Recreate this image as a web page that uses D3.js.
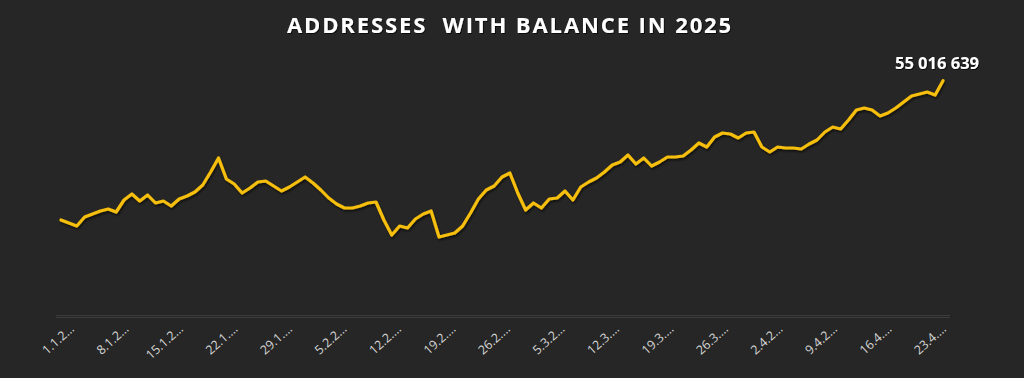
<!DOCTYPE html>
<html>
<head>
<meta charset="utf-8">
<script src="https://cdn.jsdelivr.net/npm/d3@7"></script>
<style>
  html, body { margin: 0; padding: 0; background: #262626; }
  svg { display: block; }
</style>
</head>
<body>
<svg id="chart" width="1024" height="378"></svg>
<script>
// ---- data ----
const chartTitle = "ADDRESSES  WITH BALANCE IN 2025";
const startDate = "2025-01-01";
const addressCounts = [
  54320000, 54305000, 54290000, 54335000, 54350000, 54365000, 54375000, 54360000,
  54420000, 54450000, 54415000, 54445000, 54405000, 54415000, 54390000, 54425000,
  54440000, 54460000, 54495000, 54560000, 54630000, 54525000, 54500000, 54455000,
  54480000, 54510000, 54515000, 54490000, 54465000, 54485000, 54510000, 54535000,
  54505000, 54470000, 54430000, 54400000, 54380000, 54380000, 54390000, 54405000,
  54410000, 54320000, 54245000, 54290000, 54280000, 54325000, 54350000, 54365000,
  54235000, 54245000, 54255000, 54290000, 54355000, 54425000, 54470000, 54490000,
  54535000, 54555000, 54455000, 54370000, 54405000, 54380000, 54425000, 54430000,
  54465000, 54420000, 54485000, 54510000, 54530000, 54560000, 54595000, 54610000,
  54645000, 54600000, 54630000, 54590000, 54610000, 54635000, 54635000, 54640000,
  54670000, 54705000, 54685000, 54735000, 54755000, 54750000, 54730000, 54755000,
  54760000, 54685000, 54660000, 54685000, 54680000, 54680000, 54675000, 54700000,
  54720000, 54760000, 54785000, 54775000, 54820000, 54870000, 54880000, 54870000,
  54840000, 54855000, 54880000, 54910000, 54940000, 54950000, 54960000, 54945000,
  55016639
];
const tickLabels = ["1.1.2…","8.1.2…","15.1.2…","22.1.…","29.1.…","5.2.2…","12.2.…","19.2.…",
  "26.2.…","5.3.2…","12.3.…","19.3.…","26.3.…","2.4.2…","9.4.2…","16.4.…","23.4.…"];
const yDomain = [53840000, 55240000];

// ---- build ----
const parse = d3.utcParse("%Y-%m-%d");
const t0 = parse(startDate);
const data = addressCounts.map((v, i) => ({ date: d3.utcDay.offset(t0, i), value: v }));

const svg = d3.select("#chart");
const defs = svg.append("defs");
const f = defs.append("filter").attr("id", "shadow").attr("x", "-5%").attr("y", "-20%").attr("width", "110%").attr("height", "140%");
f.append("feDropShadow").attr("dx", 1).attr("dy", 2).attr("stdDeviation", 1.2)
  .attr("flood-color", "#000").attr("flood-opacity", 0.55);
const tf = defs.append("filter").attr("id", "tshadow");
tf.append("feDropShadow").attr("dx", 1).attr("dy", 1).attr("stdDeviation", 0.6)
  .attr("flood-color", "#000").attr("flood-opacity", 0.7);

const x = d3.scaleUtc().domain(d3.extent(data, d => d.date)).range([61, 943]);
const y = d3.scaleLinear().domain(yDomain).range([316, 36]);

// title
svg.append("text")
  .attr("x", 510).attr("y", 33)
  .attr("text-anchor", "middle")
  .attr("fill", "#ffffff")
  .attr("font-family", "'Open Sans', 'Segoe UI', sans-serif")
  .attr("font-weight", 700)
  .attr("font-size", 22)
  .attr("letter-spacing", 1.9)
  .style("white-space", "pre")
  .attr("filter", "url(#tshadow)")
  .text(chartTitle);

// axis baseline (double thin line)
const axisG = svg.append("g");
[315.5, 317.5].forEach(yy => {
  axisG.append("line")
    .attr("x1", 56).attr("x2", 950)
    .attr("y1", yy).attr("y2", yy)
    .attr("stroke", "#3c3c3c").attr("stroke-width", 1);
});

// x labels
const xl = d3.scalePoint().domain(tickLabels).range([75, 947]);
svg.append("g").selectAll("text")
  .data(tickLabels)
  .join("text")
  .attr("transform", d => `translate(${xl(d)},330) rotate(-42)`)
  .attr("text-anchor", "end")
  .attr("fill", "#d6d6d6")
  .attr("font-family", "'Open Sans', 'Segoe UI', sans-serif")
  .attr("font-size", 12.5)
  .text(d => d);

// line
const line = d3.line().x(d => x(d.date)).y(d => y(d.value));
svg.append("path")
  .datum(data)
  .attr("d", line)
  .attr("fill", "none")
  .attr("stroke", "#F7BF0B")
  .attr("stroke-width", 3.2)
  .attr("stroke-linejoin", "round")
  .attr("stroke-linecap", "round")
  .attr("filter", "url(#shadow)");

// last value label
const last = data[data.length - 1];
const fmt = v => d3.format(",")(v).replace(/,/g, " ");
svg.append("text")
  .attr("x", x(last.date) + 36).attr("y", y(last.value) - 12)
  .attr("text-anchor", "end")
  .attr("fill", "#ffffff")
  .attr("font-family", "'Open Sans', 'Segoe UI', sans-serif")
  .attr("font-weight", 700)
  .attr("font-size", 16.5)
  .attr("filter", "url(#tshadow)")
  .text(fmt(last.value));
</script>
</body>
</html>
